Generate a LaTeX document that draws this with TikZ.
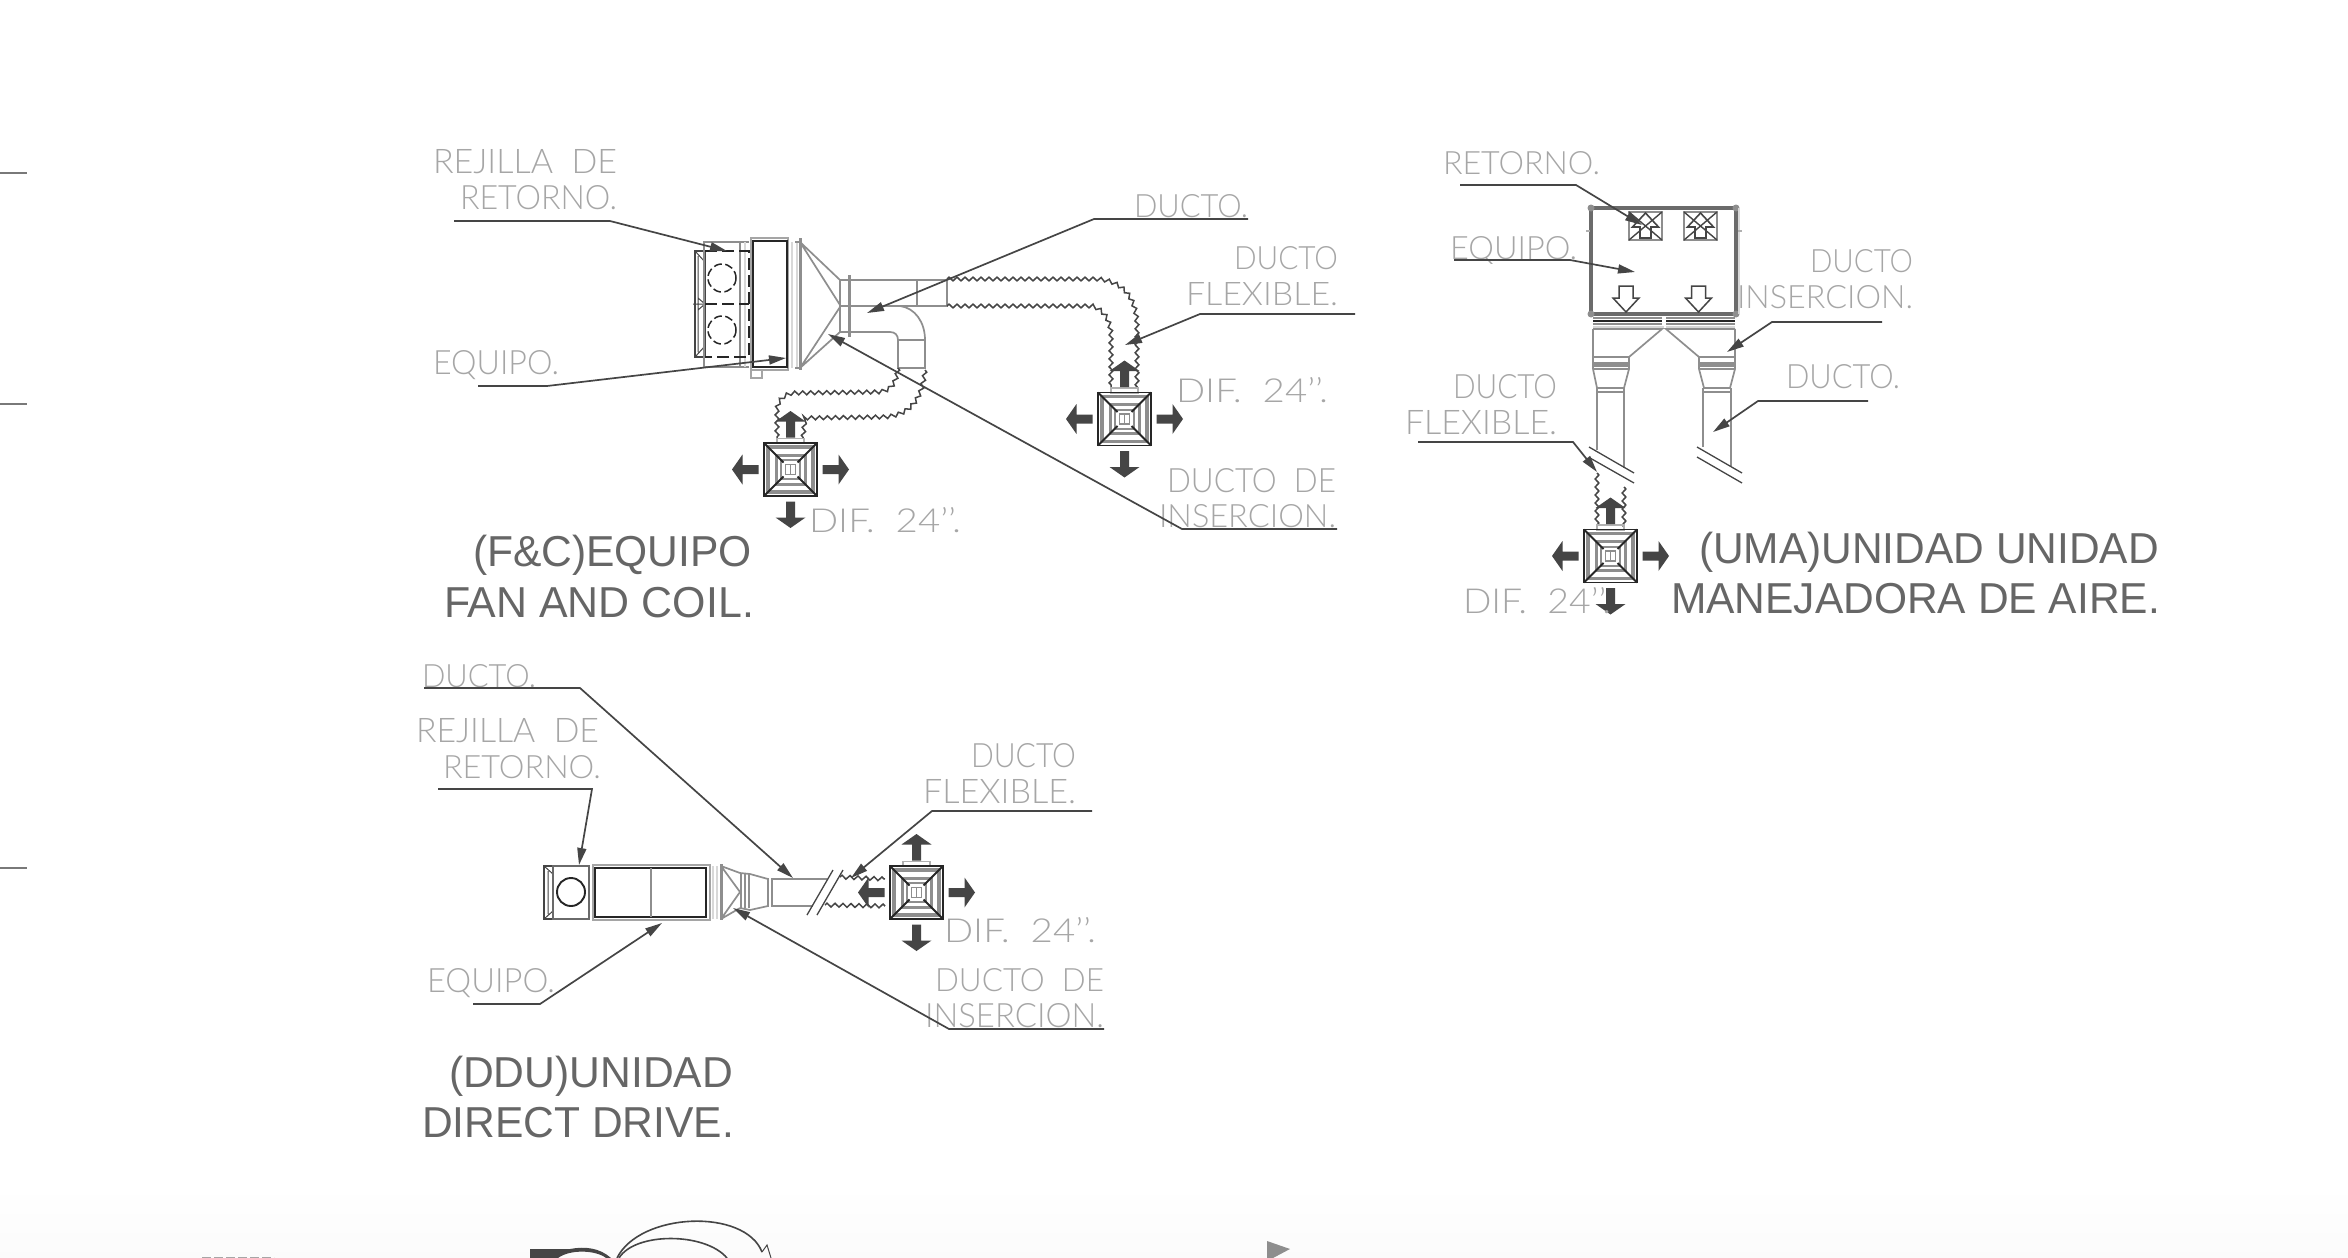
\documentclass[tikz,border=0pt]{standalone}
\usepackage{graphicx}
\usepackage{fontspec}
\usetikzlibrary{arrows.meta,decorations.pathmorphing}
\setmainfont{Liberation Sans}
\newfontfamily\cadf{Lato Light}
\definecolor{labgray}{HTML}{A6A6A6}
\definecolor{ttlgray}{HTML}{666666}
\definecolor{darkl}{HTML}{454545}
\definecolor{midg}{HTML}{8E8E8E}
\definecolor{lightg}{HTML}{D8D8D8}
\tikzset{
  x=1pt,y=-1pt,
  labelnode/.style={inner sep=0pt,outer sep=0pt,text=labgray,anchor=base west},
  titlenode/.style={inner sep=0pt,outer sep=0pt,text=ttlgray,anchor=base west},
  leaderline/.style={draw=darkl,line width=1.7pt,-{Triangle[length=17pt,width=9pt]}},
  ductline/.style={draw=midg,line width=1.7pt},
  thickgray/.style={draw=midg,line width=3pt},
  palegray/.style={draw=lightg,line width=2.5pt},
  blackline/.style={draw=black!85,line width=1.9pt},
  dashblack/.style={draw=black!85,line width=1.6pt,dash pattern=on 12pt off 5pt},
  flexline/.style={draw=darkl,line width=1.5pt,decorate,decoration={zigzag,segment length=8pt,amplitude=1.9pt}},
  fillarrow/.style={fill=darkl,draw=none},
  darkbox/.style={draw=darkl,line width=1.5pt},
}
\newcommand{\lab}[6]{\node[labelnode] (#1) at (#2-3,#3) {\resizebox{\dimexpr#4pt+3pt\relax}{#5pt}{\cadf #6}};}
\newcommand{\ttl}[5]{\node[titlenode] (#1) at (#2,#3) {\resizebox{#4pt}{\height}{\fontsize{43.3}{43.3}\selectfont #5}};}
\newcommand{\leaderpath}[7]{%
  \coordinate (#1a) at (#2,#3);\coordinate (#1b) at (#4,#5);\coordinate (#1c) at (#6,#7);
  \draw[leaderline] (#1a) -- (#1b) -- (#1c);}
\newcommand{\flowarrow}[1]{% pointing up, from the centre
  \fill[fillarrow,rotate=#1] (-4.5,-32) -- (-4.5,-48) -- (-15,-48) -- (0,-58.5) -- (15,-48) -- (4.5,-48) -- (4.5,-32) -- cycle;}
\newcommand{\diffuser}[3]{%
  \begin{scope}[shift={(#2,#3)}]
    \coordinate (#1) at (0,0);
    \draw[draw=midg!70,line width=1.5pt] (-13.5,-31) rectangle (13.5,-26);
    \draw[draw=midg,line width=3.5pt] (-22.5,-22.5) rectangle (22.5,22.5);
    \draw[draw=midg,line width=3pt] (-14.5,-14.5) rectangle (14.5,14.5);
    \draw[draw=midg,line width=2pt] (-9.5,-9.5) rectangle (9.5,9.5);
    \draw[draw=midg,line width=1.5pt] (-5,-5) rectangle (5,5);
    \draw[draw=midg,line width=1pt] (0,-5) -- (0,5);
    \draw[blackline] (-26.5,-26.5) rectangle (26.5,26.5);
    \draw[blackline] (-26.5,-26.5) -- (-7,-7) (26.5,-26.5) -- (7,-7) (-26.5,26.5) -- (-7,7) (26.5,26.5) -- (7,7);
    \flowarrow{0}\flowarrow{90}\flowarrow{180}\flowarrow{270}
  \end{scope}}
\newcommand{\retgrille}[2]{%
  \begin{scope}[shift={(#1,#2)}]
    \draw[draw=midg,line width=2.5pt] (-16.5,-14) rectangle (16.5,14);
    \draw[draw=darkl,line width=1.4pt] (-16.5,-14) -- (16.5,14) (16.5,-14) -- (-16.5,14);
    \draw[draw=darkl,line width=1.6pt] (-5.5,12) -- (-5.5,1) -- (-13,1) -- (0,-13) -- (13,1) -- (5.5,1) -- (5.5,12) -- cycle;
  \end{scope}}
\newcommand{\downarrowbox}[1]{%
  \draw[draw=darkl,line width=1.5pt,fill=white] (#1-7,286) -- (#1+7,286) -- (#1+7,298) -- (#1+13,298) -- (#1,312) -- (#1-13,298) -- (#1-7,298) -- cycle;}
\begin{document}
\begin{tikzpicture}
\clip (0,0) rectangle (2348,1258);
\fill[white] (0,0) rectangle (2348,1258);
\shade[top color=white,bottom color=black!1.5,draw=none] (0,1185) rectangle (2348,1258);

% left ticks
\draw[draw=midg!85!black,line width=1.8pt] (0,173) -- (27,173) (0,404) -- (27,404) (0,868) -- (27,868);

%% ---------- F&C ----------
% grille
\draw[darkbox] (695,251) rectangle (705,357);
\draw[draw=darkl,line width=1pt] (698,256) -- (698,352) (695,251) -- (705,262) (695,357) -- (705,346) (693,304) -- (705,304) (698,298) -- (705,304) -- (698,310);
\draw[draw=midg,line width=1.7pt] (704,242) rectangle (740,367);
\draw[draw=midg,line width=1.5pt] (740,242) -- (749,242) (740,367) -- (749,367);
\draw[palegray] (745,242) -- (745,367);
\draw[dashblack] (705,251) -- (749,251) -- (749,357) -- (705,357);
\draw[dashblack] (705,304) -- (749,304);
\draw[draw=black!85,line width=1.5pt,dash pattern=on 8pt off 3.5pt] (722,278) circle (14);
\draw[draw=black!85,line width=1.5pt,dash pattern=on 8pt off 3.5pt] (722,330) circle (14);
% equipment
\draw[draw=midg!80,line width=2.5pt] (751,238) rectangle (788,370);
\draw[blackline] (753,241) rectangle (787,367);
\draw[draw=midg!80,line width=1.2pt] (751,370) rectangle (762,378);
\draw[palegray] (792,242) -- (792,368) (797,242) -- (797,368);
\draw[thickgray] (800,238) -- (800,370);
\draw[draw=midg,line width=1.2pt] (795,368) -- (800,368) (795,242) -- (800,242);
% plenum
\draw[ductline] (800,242) -- (840,280) (800,242) -- (840,305) (800,368) -- (840,307) (800,368) -- (840,332);
\draw[ductline] (840,280) -- (840,332);
\draw[thickgray] (849,275) -- (849,337);
% main duct
\draw[ductline] (840,280) -- (947,280) -- (947,306) -- (840,306);
\draw[ductline] (917,280) -- (917,306);
% elbow
\draw[ductline] (900,306) .. controls (915,308) and (925,322) .. (925,340) -- (925,368) -- (898,368) -- (898,340) .. controls (898,335) and (895,332) .. (890,332) -- (840,332);
\draw[ductline] (898,340) -- (925,340);
% flex ducts
\draw[flexline] (947,279) -- (1097,279) .. controls (1125,281) and (1137,300) .. (1137,327) -- (1137,387);
\draw[flexline] (947,306) -- (1092,306) .. controls (1105,310) and (1111,322) .. (1111,337) -- (1111,387);
\draw[flexline] (898,368) .. controls (896,385) and (890,392) .. (875,392) -- (793,393) .. controls (782,395) and (777,402) .. (777,412) -- (777,438);
\draw[flexline] (925,370) .. controls (922,405) and (905,417) .. (880,417) -- (805,418) -- (803,438);
\diffuser{difA}{790.5}{469.5}
\diffuser{difB}{1124.5}{419}
% labels
\lab{fcRej}{436}{173}{181}{24}{REJILLA\ \ DE}
\lab{fcRet}{463}{209}{154}{24}{RETORNO.}
\lab{fcEq}{436}{374}{123}{24}{EQUIPO.}
\lab{fcDuc}{1137}{217}{111}{23}{DUCTO.}
\lab{fcFa}{1237}{269}{101}{23}{DUCTO}
\lab{fcFb}{1189}{305}{149}{23}{FLEXIBLE.}
\lab{fcDb}{1179}{402}{149}{25}{DIF.\ \ 24’’.}
\lab{fcDa}{812}{532}{149}{25}{DIF.\ \ 24’’.}
\lab{fcIa}{1170}{492}{166}{24}{DUCTO\ \ DE}
\lab{fcIb}{1162}{527}{174}{23}{INSERCION.}
\ttl{fcT1}{473}{566}{279}{(F\&C)EQUIPO}
\ttl{fcT2}{444}{617}{310}{FAN AND COIL.}
\leaderpath{lA}{454}{221}{610}{221}{727}{251}
\leaderpath{lB}{478}{386}{547}{386}{786}{358}
\leaderpath{lC}{1248}{219}{1094}{219}{867}{313}
\leaderpath{lD}{1355}{314}{1200}{314}{1125}{345}
\leaderpath{lE}{1337}{529}{1182}{529}{828}{334}

%% ---------- UMA ----------
\draw[draw=black!58,line width=3.2pt] (1591,208) rectangle (1736,314);
\fill[midg] (1591,208) circle (3.5) (1736,208) circle (3.5) (1591,314) circle (3.5) (1736,314) circle (3.5);
\draw[draw=lightg,line width=1.5pt] (1739,208) -- (1739,314);
\draw[draw=midg!70,line width=1.2pt] (1586,231) -- (1590,231) (1738,231) -- (1742,231);
\retgrille{1645.5}{226}
\retgrille{1700.5}{226}
\downarrowbox{1626}
\downarrowbox{1698.5}
% bottom supply
\draw[draw=midg,line width=1.2pt] (1593,318) -- (1662,318) (1666,318) -- (1735,318);
\draw[blackline] (1593,321) -- (1662,321) (1666,321) -- (1735,321);
\draw[draw=midg,line width=1.4pt] (1593,324) -- (1662,324) (1666,324) -- (1735,324);
\draw[draw=lightg,line width=2pt] (1593,327) -- (1664,327) (1666,327) -- (1735,327);
% left drop
\draw[ductline] (1593,329) -- (1593,357) -- (1629,357) -- (1662,329) -- (1593,329);
\draw[draw=midg,line width=5pt] (1593,364.5) -- (1629,364.5);
\draw[ductline] (1593,369) -- (1629,369) (1593,357) -- (1593,369) (1629,357) -- (1629,369);
\draw[ductline] (1593,369) -- (1597,388) -- (1624,388) -- (1629,369);
\draw[ductline] (1597,392) -- (1624,392);
\draw[ductline] (1597,388) -- (1597,450) (1624,388) -- (1624,468);
% right drop
\draw[ductline] (1735,329) -- (1735,357) -- (1699,357) -- (1666,329) -- (1735,329);
\draw[draw=midg,line width=5pt] (1699,364.5) -- (1735,364.5);
\draw[ductline] (1699,369) -- (1735,369) (1699,357) -- (1699,369) (1735,357) -- (1735,369);
\draw[ductline] (1699,369) -- (1704,388) -- (1730,388) -- (1735,369);
\draw[ductline] (1703,392) -- (1731,392);
\draw[ductline] (1703,388) -- (1703,447) (1731,388) -- (1731,466);
% break lines
\draw[draw=darkl,line width=1.3pt] (1589,447) -- (1634,473) (1590,458) -- (1634,483) (1697,447) -- (1742,473) (1697,457) -- (1742,483);
% flex
\draw[flexline] (1597,473) -- (1597,527);
\draw[flexline] (1624,487) -- (1624,527);
\diffuser{difC}{1610.5}{556}
% labels
\lab{umRet}{1446}{174}{154}{23}{RETORNO.}
\lab{umEq}{1453}{259}{124}{23}{EQUIPO.}
\lab{umIa}{1813}{272}{100}{23}{DUCTO}
\lab{umIb}{1740}{308}{173}{23}{INSERCION.}
\lab{umDu}{1789}{388}{111}{24}{DUCTO.}
\lab{umFa}{1456}{398}{101}{24}{DUCTO}
\lab{umFb}{1408}{434}{149}{24}{FLEXIBLE.}
\lab{umDi}{1466}{613}{145}{26}{DIF.\ \ 24’’.}
\ttl{umT1}{1699}{563}{460}{(UMA)UNIDAD UNIDAD}
\ttl{umT2}{1671}{613}{489}{MANEJADORA DE AIRE.}
\leaderpath{lF}{1460}{185}{1576}{185}{1642}{225}
\leaderpath{lG}{1454}{260}{1570}{260}{1635}{272}
\leaderpath{lH}{1882}{322}{1772}{322}{1727}{352}
\leaderpath{lI}{1868}{401}{1758}{401}{1713}{432}
\leaderpath{lJ}{1418}{442}{1573}{442}{1597}{472}

%% ---------- DDU ----------
\draw[darkbox] (544,866) rectangle (553,919);
\draw[draw=darkl,line width=1pt] (548,871) -- (548,914) (544,866) -- (553,874) (544,919) -- (553,911);
\draw[darkbox,draw=darkl!80] (553,866) rectangle (589,919);
\draw[blackline] (571,892) circle (14);
\draw[draw=midg!80,line width=2.5pt] (593,865) rectangle (710,920);
\draw[blackline] (595,868) rectangle (706,917);
\draw[ductline] (651,868) -- (651,917);
\draw[palegray] (713,866) -- (713,919) (717,866) -- (717,919);
\draw[thickgray] (721,864) -- (721,920);
\draw[ductline] (721,866) -- (740,873) (721,866) -- (740,892) (721,919) -- (740,892) (721,919) -- (740,908);
\draw[draw=midg,line width=2.5pt] (741,873) -- (741,908) (745,873) -- (745,908) (749,873) -- (749,908);
\draw[ductline] (740,873) -- (750,874) -- (768,879) (740,908) -- (750,910) -- (768,906);
\draw[ductline] (768,878) -- (768,907) (772,878) -- (772,907);
\draw[ductline] (772,879) -- (827,879) (772,906) -- (813,906);
\draw[draw=darkl,line width=1.3pt] (833,870) -- (807,915) (843,870) -- (817,915);
\draw[flexline] (840,877) -- (885,879);
\draw[flexline] (825,905) -- (885,906);
\diffuser{difD}{916.5}{892.5}
% labels
\lab{ddDu}{425}{687}{111}{23}{DUCTO.}
\lab{ddRa}{419}{742}{180}{24}{REJILLA\ \ DE}
\lab{ddRb}{446}{778}{155}{23}{RETORNO.}
\lab{ddFa}{974}{767}{102}{24}{DUCTO}
\lab{ddFb}{926}{803}{150}{24}{FLEXIBLE.}
\lab{ddDi}{947}{942}{149}{25}{DIF.\ \ 24’’.}
\lab{ddIa}{938}{991}{166}{23}{DUCTO\ \ DE}
\lab{ddIb}{928}{1027}{176}{24}{INSERCION.}
\lab{ddEq}{430}{992}{125}{24}{EQUIPO.}
\ttl{ddT1}{449}{1087}{284}{(DDU)UNIDAD}
\ttl{ddT2}{422}{1137}{312}{DIRECT DRIVE.}
\leaderpath{lK}{424}{688}{580}{688}{793}{878}
\leaderpath{lL}{438}{789}{592}{789}{579}{865}
\leaderpath{lM}{1092}{811}{932}{811}{851}{878}
\leaderpath{lN}{1104}{1029}{949}{1029}{733}{908}
\leaderpath{lO}{473}{1004}{540}{1004}{662}{923}

%% ---------- bottom edge ----------
\draw[draw=labgray,line width=1.2pt,dash pattern=on 9pt off 3pt] (202,1257.5) -- (274,1257.5);
\fill[darkl] (530,1249) -- (570,1249) .. controls (585,1246) and (600,1248) .. (611,1258) -- (606,1258) .. controls (596,1250) and (570,1249) .. (558,1258) -- (530,1258) -- cycle;
\draw[draw=darkl,line width=1.6pt] (617,1258) .. controls (640,1212) and (745,1208) .. (762,1252);
\draw[draw=darkl,line width=1.6pt] (619,1258) .. controls (635,1232) and (705,1232) .. (727,1258);
\draw[draw=darkl,line width=1pt] (762,1252) -- (767,1245) -- (771,1258);
\fill[midg] (1267,1241) -- (1290,1249) -- (1273,1258) -- (1267,1258) -- cycle;
\end{tikzpicture}
\end{document}
